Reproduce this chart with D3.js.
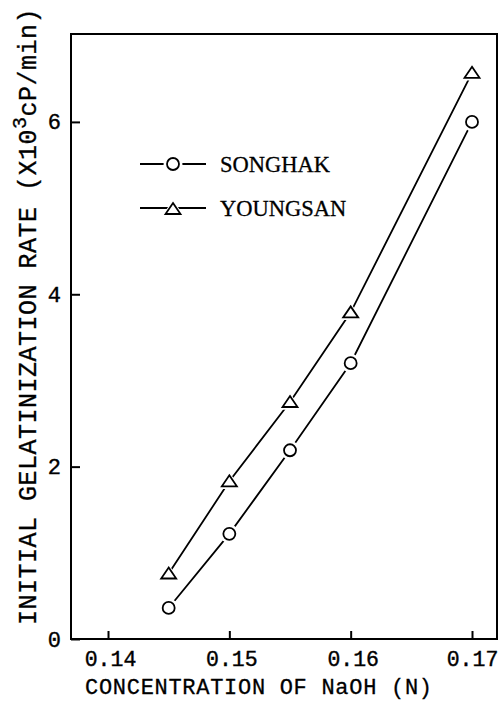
<!DOCTYPE html>
<html>
<head>
<meta charset="utf-8">
<script src="https://cdn.jsdelivr.net/npm/d3@7"></script>
<style>
  html, body { margin: 0; padding: 0; background: #fff; }
  svg { display: block; }
</style>
</head>
<body>
<svg id="chart" width="500" height="701"></svg>
<script>
// NaOH concentration (N)
const concentration = [0.145, 0.15, 0.155, 0.16, 0.17];
// Initial gelatinization rate (x10^3 cP/min)
const songhak = [0.36, 1.22, 2.19, 3.2, 6.0];
const youngsan = [0.76, 1.83, 2.75, 3.79, 6.57];

const xTicks = [0.14, 0.15, 0.16, 0.17];
const xTickLabels = ["0.14", "0.15", "0.16", "0.17"];
const yTicks = [0, 2, 4, 6];
const yTickLabels = ["0", "2", "4", "6"];

const seriesNames = ["SONGHAK", "YOUNGSAN"];

const svg = d3.select("#chart");
const m = { left: 71, top: 34, right: 497, bottom: 639 };

const x = d3.scaleLinear().domain([0.13695, 0.17206]).range([m.left, m.right]);
const y = d3.scaleLinear().domain([0, 7.02]).range([m.bottom, m.top]);

const monoFont = "'Liberation Mono', 'DejaVu Sans Mono', monospace";
const serifFont = "'Liberation Serif', 'DejaVu Serif', serif";

// Axes with inward ticks
const xAxis = d3.axisBottom(x)
  .tickValues(xTicks)
  .tickFormat((d, i) => xTickLabels[i])
  .tickSizeInner(-8).tickSizeOuter(0).tickPadding(12);
const gx = svg.append("g").attr("transform", `translate(0,${m.bottom})`).call(xAxis);
gx.select(".domain").remove();
gx.selectAll(".tick line").attr("stroke", "#000").attr("stroke-width", 2);
gx.selectAll(".tick text")
  .attr("font-family", monoFont).attr("font-size", 21.5).attr("fill", "#000")
  .attr("stroke", "#000").attr("stroke-width", 0.4)
  .attr("dx", (d, i) => i === xTicks.length - 1 ? 0 : 2);

const yAxis = d3.axisLeft(y)
  .tickValues(yTicks)
  .tickFormat((d, i) => yTickLabels[i])
  .tickSizeInner(-9).tickSizeOuter(0).tickPadding(10);
const gy = svg.append("g").attr("transform", `translate(${m.left},0)`).call(yAxis);
gy.select(".domain").remove();
gy.selectAll(".tick line").attr("stroke", "#000").attr("stroke-width", 2);
gy.selectAll(".tick text")
  .attr("font-family", monoFont).attr("font-size", 22).attr("fill", "#000")
  .attr("stroke", "#000").attr("stroke-width", 0.4);

// Plot frame
svg.append("rect")
  .attr("x", m.left).attr("y", m.top)
  .attr("width", m.right - m.left).attr("height", m.bottom - m.top)
  .attr("fill", "none").attr("stroke", "#000").attr("stroke-width", 2);

// Marker shapes
const circlePath = (r) => d3.symbol().type(d3.symbolCircle).size(Math.PI * r * r)();
const trianglePath = (s) => `M0,${-6 * s}L${7.5 * s},${5 * s}L${-7.5 * s},${5 * s}Z`;

const series = [
  { name: seriesNames[0], values: songhak, shape: "circle" },
  { name: seriesNames[1], values: youngsan, shape: "triangle" }
];

const line = d3.line().x(d => x(d[0])).y(d => y(d[1]));

function drawMarker(g, shape) {
  if (shape === "circle") {
    g.append("path").attr("d", circlePath(9.5)).attr("fill", "#fff");
    g.append("path").attr("d", circlePath(6))
      .attr("fill", "#fff").attr("stroke", "#000").attr("stroke-width", 1.8);
  } else {
    g.append("path").attr("d", trianglePath(1.55)).attr("fill", "#fff");
    g.append("path").attr("d", trianglePath(1))
      .attr("fill", "#fff").attr("stroke", "#000").attr("stroke-width", 1.8)
      .attr("stroke-linejoin", "miter");
  }
}

series.forEach(s => {
  const pts = concentration.map((c, i) => [c, s.values[i]]);
  svg.append("path")
    .attr("d", line(pts))
    .attr("fill", "none").attr("stroke", "#000").attr("stroke-width", 1.8);
  pts.forEach(p => {
    const g = svg.append("g").attr("transform", `translate(${x(p[0])},${y(p[1])})`);
    drawMarker(g, s.shape);
  });
});

// Legend
const legendRows = [164, 208];
series.forEach((s, i) => {
  const ly = legendRows[i];
  svg.append("line")
    .attr("x1", 140).attr("x2", 206).attr("y1", ly).attr("y2", ly)
    .attr("stroke", "#000").attr("stroke-width", 1.8);
  const g = svg.append("g").attr("transform", `translate(173,${s.shape === "triangle" ? ly + 1 : ly})`);
  drawMarker(g, s.shape);
  svg.append("text")
    .attr("x", 220).attr("y", ly + 8)
    .attr("font-family", serifFont).attr("font-size", 22.5).attr("fill", "#000")
    .attr("stroke", "#000").attr("stroke-width", 0.3)
    .text(s.name);
});

// Axis titles
svg.append("text")
  .attr("x", 85).attr("y", 694)
  .attr("font-family", monoFont).attr("font-size", 22).attr("fill", "#000")
  .attr("stroke", "#000").attr("stroke-width", 0.3)
  .attr("textLength", 347).attr("lengthAdjust", "spacing")
  .text("CONCENTRATION OF NaOH (N)");

const yt = svg.append("text")
  .attr("transform", "translate(36,625) rotate(-90)")
  .attr("font-family", monoFont).attr("font-size", 25).attr("fill", "#000")
  .attr("stroke", "#000").attr("stroke-width", 0.3)
  .attr("letter-spacing", 0.5);
yt.append("tspan").text("INITIAL GELATINIZATION RATE (X10");
yt.append("tspan").attr("font-size", 20).attr("dy", -10).text("3");
yt.append("tspan").attr("dy", 10).text("cP/min)");
</script>
</body>
</html>
